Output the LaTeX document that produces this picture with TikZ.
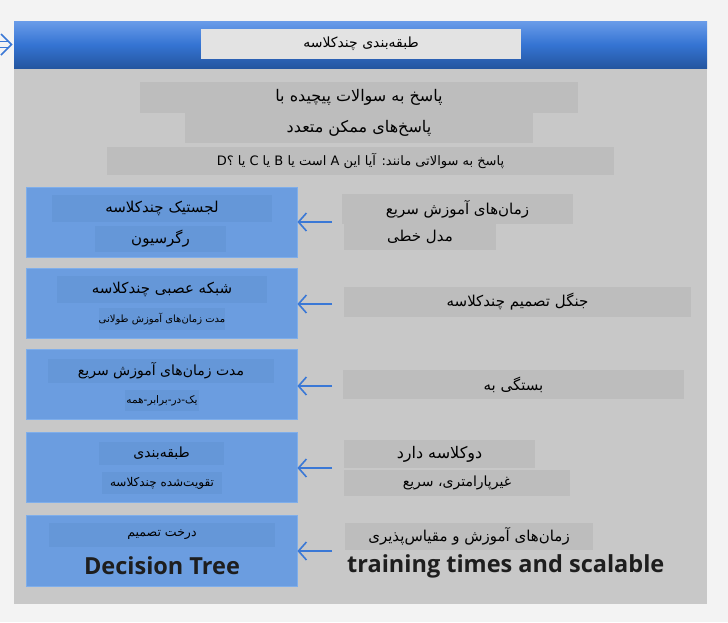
\documentclass[tikz,border=0pt]{standalone}
\usepackage{fontspec}
\setmainfont{DejaVu Sans}
\newfontfamily\fa[Script=Arabic]{DejaVu Sans}
\newfontfamily\enb{Open Sans}
\TeXXeTstate=1
\usetikzlibrary{arrows.meta}
\definecolor{bgc}{HTML}{F3F3F3}
\definecolor{panel}{HTML}{C8C8C8}
\definecolor{gbox}{HTML}{BDBDBD}
\definecolor{tbox}{HTML}{E3E3E3}
\definecolor{bluebox}{HTML}{6B9DE0}
\definecolor{blueborder}{HTML}{7FAEEA}
\definecolor{blueinner}{HTML}{6597D8}
\definecolor{arrowblue}{HTML}{3A78D6}
\definecolor{bantop}{HTML}{6A9CE9}
\definecolor{banmid}{HTML}{3574D3}
\definecolor{banbot}{HTML}{2456A0}
\definecolor{entext}{HTML}{1E1E1E}
\tikzset{
  txt/.style={inner sep=0pt, outer sep=0pt, align=center, text=black},
  fsz/.style={font=\fa\fontsize{#1}{#1}\selectfont},
  graybox/.style={txt, fill=gbox},
  innerbox/.style={txt, fill=blueinner},
  bigbox/.style={fill=bluebox, draw=blueborder, line width=0.8pt, inner sep=0pt},
  arr/.style={draw=arrowblue, line width=1.6pt, -{Straight Barb[length=8pt, width=18pt]}},
  entxt/.style={inner sep=0pt, text=entext, font=\enb\bfseries\fontsize{23.5}{24}\selectfont}
}
\begin{document}
\begin{tikzpicture}[x=1pt,y=-1pt]
\useasboundingbox (0,0) rectangle (728,622);
\fill[bgc] (0,0) rectangle (728,622);
% panel
\node[fill=panel, inner sep=0pt, minimum width=693pt, minimum height=536pt] (panel) at (360.5,336) {};
% banner
\shade[top color=bantop, bottom color=banbot, middle color=banmid] (14,21) rectangle (707,68);
\coordinate (banwest) at (14,44.5);
% left-edge arrow
\draw[arrowblue, line width=1.3pt] (0,41.5) -- (8,41.5) (0,47.5) -- (8,47.5);
\draw[arrowblue, line width=1.6pt] (1,34) -- (11.5,44.5) -- (1,55);
% title
\node[txt, fill=tbox, minimum width=320pt, minimum height=30pt, fsz=14] (title) at (361,44) {\beginR طبقه‌بندی چندکلاسه\endR};
% top gray lines
\node[graybox, minimum width=438pt, minimum height=31pt, fsz=16] (L1) at (359,97.5) {\beginR پاسخ به سوالات پیچیده با\endR};
\node[graybox, minimum width=348pt, minimum height=30pt, fsz=16] (L2) at (359,128) {\beginR پاسخ‌های ممکن متعدد\endR};
\node[graybox, minimum width=507pt, minimum height=28pt, fsz=13] (L3) at (360.5,161) {\beginR پاسخ به سوالاتی مانند: آیا این A است یا B یا C یا D؟\endR};
% left blue boxes
\node[bigbox, minimum width=271pt, minimum height=70pt] (B1) at (161.5,222) {};
\node[bigbox, minimum width=271pt, minimum height=70pt] (B2) at (161.5,303) {};
\node[bigbox, minimum width=271pt, minimum height=70pt] (B3) at (161.5,384) {};
\node[bigbox, minimum width=271pt, minimum height=70pt] (B4) at (161.5,467) {};
\node[bigbox, minimum width=271pt, minimum height=71pt] (B5) at (161.5,550.5) {};
% inner texts
\node[innerbox, minimum width=220pt, minimum height=27pt, fsz=15] (B1a) at (162,208.5) {\beginR لجستیک چندکلاسه\endR};
\node[innerbox, minimum width=131pt, minimum height=26pt, fsz=15] (B1b) at (160.5,239) {\beginR رگرسیون\endR};
\node[innerbox, minimum width=210pt, minimum height=27pt, fsz=15] (B2a) at (162,289.5) {\beginR شبکه عصبی چندکلاسه\endR};
\node[innerbox, minimum width=104pt, minimum height=22pt, fsz=10] (B2b) at (162,319) {\beginR مدت زمان‌های آموزش طولانی\endR};
\node[innerbox, minimum width=226pt, minimum height=24pt, fsz=14] (B3a) at (161,371) {\beginR مدت زمان‌های آموزش سریع\endR};
\node[innerbox, minimum width=74pt, minimum height=21pt, fsz=10.5] (B3b) at (162,400.5) {\beginR یک-در-برابر-همه\endR};
\node[innerbox, minimum width=125pt, minimum height=23pt, fsz=14] (B4a) at (161.5,453.5) {\beginR طبقه‌بندی\endR};
\node[innerbox, minimum width=120pt, minimum height=22pt, fsz=12] (B4b) at (162,483) {\beginR تقویت‌شده چندکلاسه\endR};
\node[innerbox, minimum width=226pt, minimum height=24pt, fsz=12.5] (B5a) at (162,535) {\beginR درخت تصمیم\endR};
\node[entxt] (B5b) at (162,566) {Decision Tree};
% right texts
\node[graybox, minimum width=231pt, minimum height=30pt, fsz=15] (R1a) at (457.5,209) {\beginR زمان‌های آموزش سریع\endR};
\node[graybox, minimum width=152pt, minimum height=26pt, fsz=15] (R1b) at (420,237) {\beginR مدل خطی\endR};
\node[graybox, minimum width=347pt, minimum height=30pt, fsz=15] (R2) at (517.5,302) {\beginR جنگل تصمیم چندکلاسه\endR};
\node[graybox, minimum width=341pt, minimum height=29pt, fsz=15] (R3) at (513.5,384.5) {\beginR بستگی به\endR};
\node[graybox, minimum width=191pt, minimum height=28pt, fsz=16] (R4a) at (439.5,454) {\beginR دوکلاسه دارد\endR};
\node[graybox, minimum width=226pt, minimum height=26pt, fsz=14] (R4b) at (457,483) {\beginR غیرپارامتری، سریع\endR};
\node[graybox, minimum width=248pt, minimum height=27pt, fsz=15] (R5a) at (469,536.5) {\beginR زمان‌های آموزش و مقیاس‌پذیری\endR};
\node[entxt, anchor=west] (R5b) at (347,566) {training times and scalable};
% arrows
\coordinate (s1) at (332,222);
\coordinate (s2) at (332,304);
\coordinate (s3) at (332,386);
\coordinate (s4) at (332,468);
\coordinate (s5) at (332,551);
\draw[arr] (s1) -- (B1.east |- s1);
\draw[arr] (s2) -- (B2.east |- s2);
\draw[arr] (s3) -- (B3.east |- s3);
\draw[arr] (s4) -- (B4.east |- s4);
\draw[arr] (s5) -- (B5.east |- s5);
\end{tikzpicture}
\end{document}
